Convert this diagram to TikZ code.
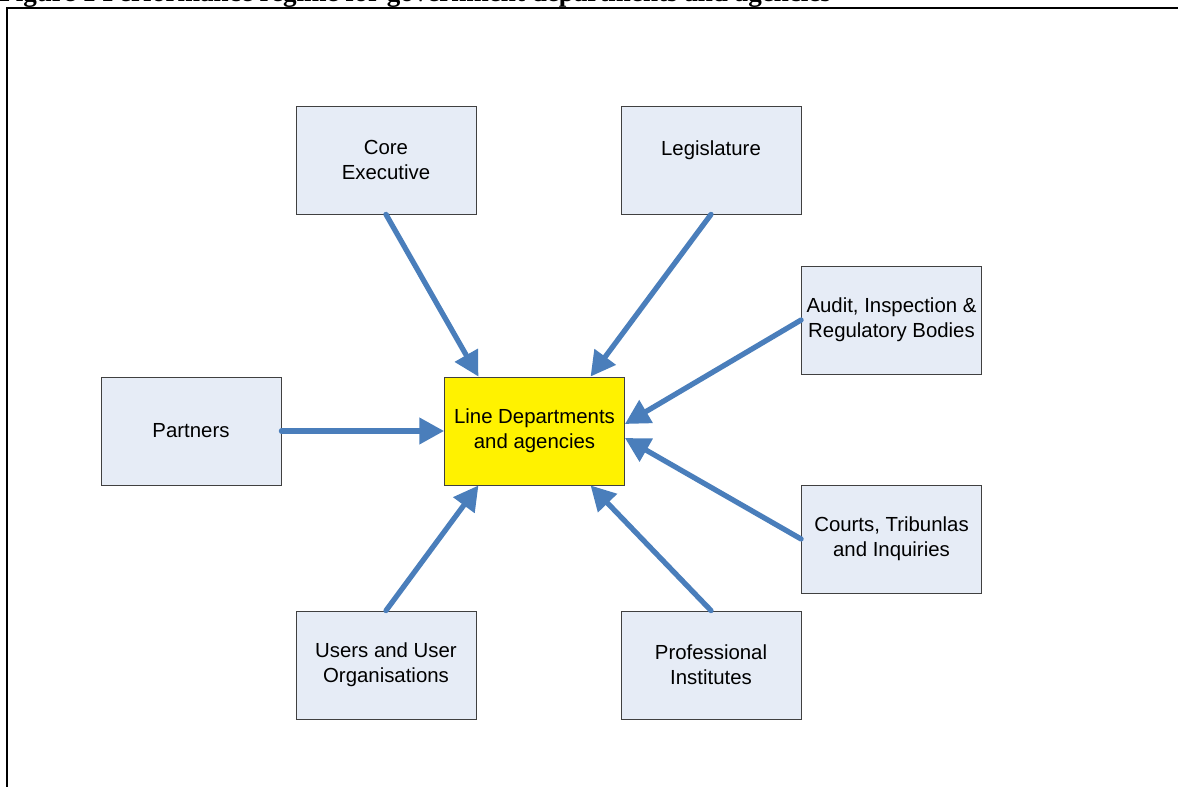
\documentclass[tikz,border=0pt]{standalone}
\usepackage{fontspec}
\setmainfont{Liberation Sans}
\newfontfamily\titlefont{Liberation Serif}
\usetikzlibrary{arrows.meta,calc}
\definecolor{boxfill}{RGB}{230,236,246}
\definecolor{boxline}{RGB}{64,64,64}
\definecolor{flowblue}{RGB}{74,126,187}
\tikzset{
	box/.style={draw=boxline, line width=0.5pt, fill=boxfill, minimum width=3.6cm, minimum height=2.16cm, inner sep=0pt, align=center, font=\fontsize{11.6}{14}\selectfont},
	hub/.style={box, fill=yellow},
	flow/.style={draw=flowblue, line width=3pt, line cap=round, -{Triangle[length=14pt,width=14.5pt]}}
}
\begin{document}
\begin{tikzpicture}[x=0.02cm,y=-0.02cm]
	\useasboundingbox (0,0) rectangle (1178,787);
	\clip (0,0) rectangle (1178,787);
	% Title and frame
	\node[anchor=base west, inner sep=0pt, font=\titlefont\bfseries\fontsize{15.4}{17}\selectfont] (title) at (-1,2) {Figure 1 Performance regime for government departments and agencies};
	\draw[line width=1.7pt] (7,800) -- (7,8) -- (1190,8);
	% Boxes
	\node[hub] (ld) at (534.5,431) {Line Departments\\and agencies};
	\node[box] (core) at (386,160) {Core\\Executive};
	\node[box] (leg) at (711,160) {Legislature\\\mbox{}};
	\node[box] (audit) at (891.5,320) {Audit, Inspection \&\\Regulatory Bodies};
	\node[box] (partners) at (191,431) {Partners};
	\node[box] (courts) at (891.5,539) {Courts, Tribunlas\\and Inquiries};
	\node[box] (users) at (386,665) {Users and User\\Organisations};
	\node[box] (prof) at (711,665) {Professional\\Institutes};
	% Arrows
	\draw[flow] (core.south) -- ($(ld.north west)!0.19!(ld.north east)$);
	\draw[flow] (leg.south) -- ($(ld.north east)!0.19!(ld.north west)$);
	\draw[flow] (audit.west) -- ([yshift=0.14cm]ld.east);
	\draw[flow] (partners.east) -- (ld.west);
	\draw[flow] (courts.west) -- ([yshift=-0.14cm]ld.east);
	\draw[flow] (users.north) -- ($(ld.south west)!0.19!(ld.south east)$);
	\draw[flow] (prof.north) -- ($(ld.south east)!0.19!(ld.south west)$);
\end{tikzpicture}
\end{document}
